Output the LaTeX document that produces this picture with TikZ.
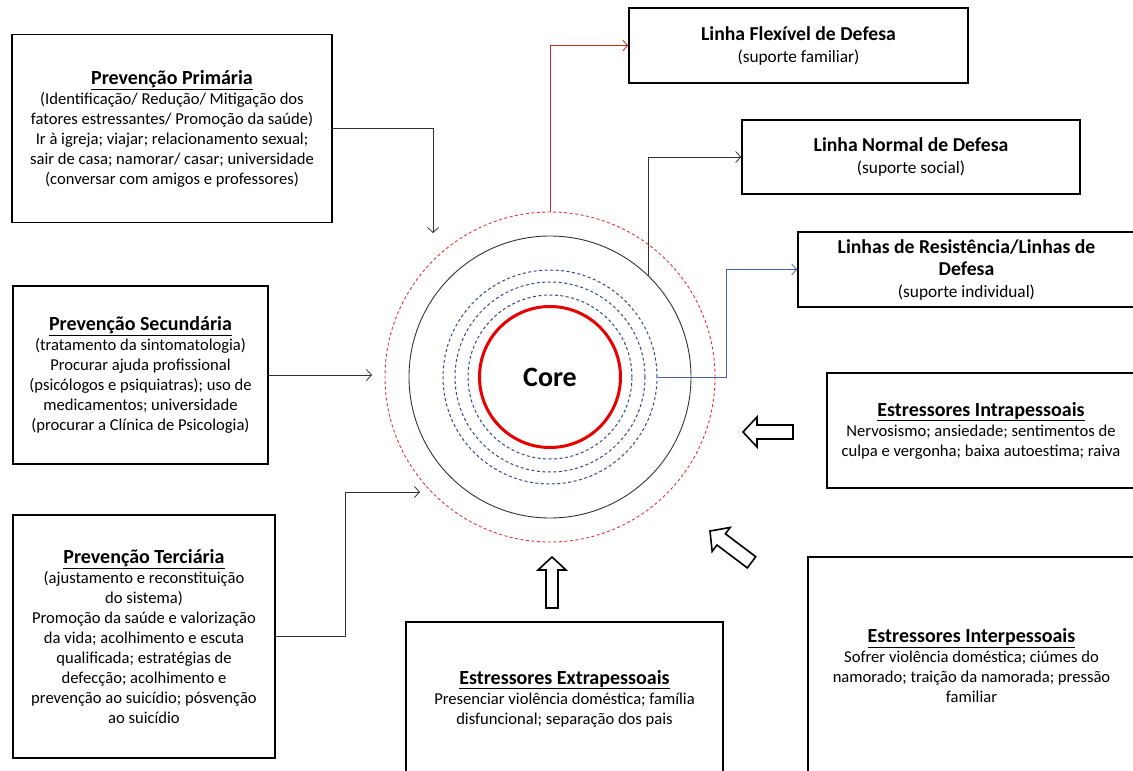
\documentclass[tikz,border=0pt]{standalone}
\usepackage{fontspec}
\setmainfont{Carlito}
\usetikzlibrary{arrows.meta}
\definecolor{linkred}{RGB}{192,45,40}
\definecolor{flexred}{RGB}{228,50,55}
\definecolor{corered}{RGB}{230,0,0}
\definecolor{linkblue}{RGB}{70,100,160}
\definecolor{resblue}{RGB}{55,70,135}
\definecolor{normgray}{RGB}{50,50,50}
\tikzset{
  box/.style={draw, line width=1.6pt, align=center, inner sep=2pt, font=\fontsize{16.6}{20}\selectfont},
  rbox/.style={draw, line width=1.6pt, align=center, inner sep=2pt, font=\fontsize{17.3}{22}\selectfont},
  ring/.style={circle, draw, inner sep=0pt},
  link/.style={line width=0.8pt, -{Straight Barb[length=5pt,width=11pt]}},
  hollowarr/.style={draw, line width=1.6pt, fill=white, line join=miter}
}
\newcommand{\ttl}[1]{\fontsize{20}{22}\selectfont\underline{\textbf{#1}}}
\newcommand{\rttl}[1]{\fontsize{19.7}{23}\selectfont\textbf{#1}}
\begin{document}
\begin{tikzpicture}[x=1pt, y=-1pt]
\useasboundingbox (0,0) rectangle (1133,771);

%rings
\node[ring, draw=flexred, dash pattern=on 3pt off 2.5pt, line width=0.9pt, minimum size=330pt] (flex) at (550,377) {};
\node[ring, draw=normgray, line width=0.9pt, minimum size=282pt] (normal) at (550,377) {};
\node[ring, draw=resblue, dash pattern=on 3pt off 2.5pt, line width=1pt, minimum size=214pt] (res3) at (550,377) {};
\node[ring, draw=resblue, dash pattern=on 3pt off 2.5pt, line width=1pt, minimum size=190pt] (res2) at (550,377) {};
\node[ring, draw=resblue, dash pattern=on 3pt off 2.5pt, line width=1pt, minimum size=164pt] (res1) at (550,377) {};
\node[ring, draw=corered, line width=3pt, minimum size=141pt, font=\fontsize{28}{30}\selectfont\bfseries] (core) at (550,377) {Core};

%prevention boxes
\node[box, minimum width=320pt, minimum height=188pt] (prim) at (172,128.5) {\ttl{Prevenção Primária}\\
(Identificação/ Redução/ Mitigação dos\\
fatores estressantes/ Promoção da saúde)\\
Ir à igreja; viajar; relacionamento sexual;\\
sair de casa; namorar/ casar; universidade\\
(conversar com amigos e professores)};
\node[box, minimum width=255pt, minimum height=178pt] (sec) at (140.5,375) {\ttl{Prevenção Secundária}\\
(tratamento da sintomatologia)\\
Procurar ajuda profissional\\
(psicólogos e psiquiatras); uso de\\
medicamentos; universidade\\
(procurar a Clínica de Psicologia)};
\node[box, minimum width=262pt, minimum height=243pt] (ter) at (144,636.5) {\ttl{Prevenção Terciária}\\
(ajustamento e reconstituição\\
do sistema)\\
Promoção da saúde e valorização\\
da vida; acolhimento e escuta\\
qualificada; estratégias de\\
defecção; acolhimento e\\
prevenção ao suicídio; pósvenção\\
ao suicídio};

%defence boxes
\node[rbox, minimum width=339pt, minimum height=75pt] (lflex) at (798.5,45.5) {\rttl{Linha Flexível de Defesa}\\(suporte familiar)};
\node[rbox, minimum width=338pt, minimum height=74pt] (lnormal) at (911,157) {\rttl{Linha Normal de Defesa}\\(suporte social)};
\node[rbox, minimum width=337pt, minimum height=75pt] (lres) at (966.5,269.5) {\rttl{Linhas de Resistência/Linhas de}\\\rttl{Defesa}\\(suporte individual)};

%stressor boxes
\node[box, minimum width=308pt, minimum height=115pt] (intra) at (981,430.5) {\ttl{Estressores Intrapessoais}\\
Nervosismo; ansiedade; sentimentos de\\
culpa e vergonha; baixa autoestima; raiva};
\node[box, minimum width=327pt, minimum height=218pt] (inter) at (971.5,666) {\ttl{Estressores Interpessoais}\\
Sofrer violência doméstica; ciúmes do\\
namorado; traição da namorada; pressão\\
familiar};
\node[box, minimum width=317pt, minimum height=153pt] (extra) at (564.5,698.5) {\ttl{Estressores Extrapessoais}\\
Presenciar violência doméstica; família\\
disfuncional; separação dos pais};

%arrow ends
\coordinate (primend) at (433,233);
\coordinate (secend) at (372,375);
\coordinate (terend) at (420,492);

%connectors
\draw[link, draw=normgray] (prim.east) -| (primend);
\draw[link, draw=normgray] (sec.east) -- (secend);
\draw[link, draw=normgray] (ter.east) -- ++(70,0) |- (terend);
\draw[link, draw=linkred] (flex.north) |- (lflex.west);
\draw[link, draw=normgray] (normal.46) |- (lnormal.west);
\draw[link, draw=linkblue] (res3.east) -- ++(69,0) |- (lres.west);

%stressor arrows
\draw[hollowarr, shift={(743,432)}, rotate=180] (0,0) -- (-14,15) -- (-14,7) -- (-50,7) -- (-50,-7) -- (-14,-7) -- (-14,-15) -- cycle;%intra
\draw[hollowarr, shift={(710,531)}, rotate=143] (0,0) -- (-14,15) -- (-14,7) -- (-52,7) -- (-52,-7) -- (-14,-7) -- (-14,-15) -- cycle;%inter
\draw[hollowarr, shift={(552,557)}, rotate=90] (0,0) -- (-13,14) -- (-13,6) -- (-51,6) -- (-51,-6) -- (-13,-6) -- (-13,-14) -- cycle;%extra

\end{tikzpicture}
\end{document}
